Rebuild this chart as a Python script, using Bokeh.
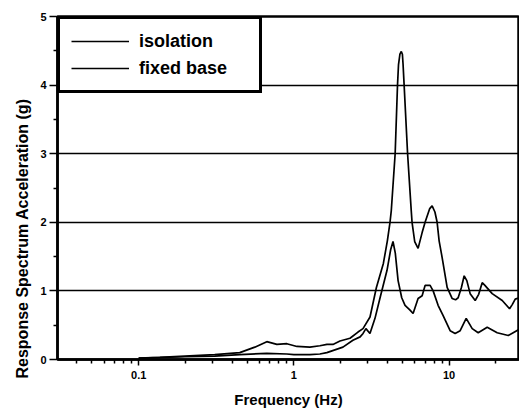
import numpy as np
from bokeh.plotting import figure
from bokeh.models import FixedTicker, Legend, LegendItem, Title, BasicTickFormatter, Range1d
from bokeh.embed import file_html
from bokeh.resources import INLINE

# ---- data ----
freq_fixed = [0.1, 0.137, 0.198, 0.309, 0.448, 0.56, 0.669, 0.777, 0.901, 1.046, 1.268,
              1.471, 1.633, 1.785, 1.981, 2.298, 2.588, 2.787, 3.093, 3.40, 3.77, 4.0,
              4.16, 4.24, 4.49, 4.65, 4.72, 4.82, 4.92, 5.0, 5.05, 5.13, 5.4, 5.7, 5.77,
              6.0, 6.31, 6.7, 7.0, 7.5, 7.77, 8.1, 8.37, 8.62, 9.01, 9.71, 10.45, 11.0,
              11.43, 12.0, 12.5, 13.0, 13.66, 14.72, 15.5, 16.33, 17.0, 18.94, 21.98,
              24.5, 25.5, 26.66, 28.29]
acc_fixed = [0.02, 0.03, 0.05, 0.07, 0.10, 0.18, 0.26, 0.22, 0.23, 0.19, 0.18,
             0.20, 0.22, 0.22, 0.27, 0.31, 0.40, 0.45, 0.62, 1.05, 1.40, 1.73,
             2.0, 2.17, 3.0, 4.0, 4.3, 4.45, 4.49, 4.45, 4.3, 4.0, 3.0, 2.17, 2.0,
             1.72, 1.62, 1.85, 2.0, 2.2, 2.24, 2.15, 2.0, 1.73, 1.49, 1.05, 0.89, 0.87,
             0.9, 1.05, 1.22, 1.15, 0.96, 0.86, 0.95, 1.12, 1.08, 0.96, 0.86,
             0.74, 0.8, 0.88, 0.9]

freq_iso = [0.1, 0.2, 0.309, 0.448, 0.669, 0.9, 1.0, 1.27, 1.47, 1.63, 2.07, 2.4, 2.67,
            2.79, 2.91, 3.09, 3.33, 3.59, 3.98, 4.2, 4.35, 4.5, 4.69, 4.95, 5.2, 5.6,
            5.86, 6.31, 6.7, 7.0, 7.54, 7.89, 8.49, 9.15, 10.15, 10.93, 11.78, 12.88,
            14.08, 15.39, 17.59, 20.4, 24.03, 28.29]
acc_iso = [0.02, 0.04, 0.05, 0.07, 0.09, 0.08, 0.07, 0.07, 0.08, 0.10, 0.18, 0.28, 0.33,
           0.38, 0.45, 0.38, 0.60, 0.90, 1.30, 1.60, 1.72, 1.55, 1.15, 0.90, 0.79, 0.72,
           0.67, 0.89, 0.93, 1.08, 1.08, 1.00, 0.79, 0.64, 0.42, 0.38, 0.42, 0.60,
           0.45, 0.39, 0.47, 0.39, 0.35, 0.44]

y_ticks = [0, 1, 2, 3, 4, 5]
y_minor = [0.5, 1.5, 2.5, 3.5, 4.5]
x_ticks = [0.1, 1, 10]
x_minor = [0.04, 0.05, 0.06, 0.07, 0.08, 0.09, 0.2, 0.3, 0.4, 0.5, 0.6, 0.7, 0.8, 0.9,
           2, 3, 4, 5, 6, 7, 8, 9, 20, 30]
x_labels = {0.1: "0.1", 1: "1", 10: "10"}

FONT = "Liberation Sans"

p = figure(width=519, height=415, x_axis_type="log",
           x_range=Range1d(0.03, 28.4), y_range=Range1d(0, 5),
           output_backend="svg", toolbar_location=None,
           min_border_left=57, min_border_right=0, min_border_top=16, min_border_bottom=56)

p.background_fill_color = "white"
p.border_fill_color = "white"
p.outline_line_color = "black"
p.outline_line_width = 2.5

r_fix = p.line(freq_fixed, acc_fixed, line_color="black", line_width=1.7)
r_iso = p.line(freq_iso, acc_iso, line_color="black", line_width=1.7)

# axes
p.yaxis.ticker = FixedTicker(ticks=y_ticks, minor_ticks=y_minor)
p.xaxis.ticker = FixedTicker(ticks=x_ticks, minor_ticks=x_minor)
p.xaxis.formatter = BasicTickFormatter()
p.xaxis.major_label_overrides = x_labels

for ax in (p.xaxis[0], p.yaxis[0]):
    ax.axis_line_color = "black"
    ax.axis_line_width = 2.5
    ax.major_tick_line_color = "black"
    ax.minor_tick_line_color = "black"
    ax.major_tick_line_width = 1.5
    ax.minor_tick_line_width = 1.5
    ax.major_tick_in = 0
    ax.minor_tick_in = 0
    ax.major_label_text_font = FONT
    ax.major_label_text_font_style = "bold"
    ax.major_label_text_font_size = "11px"
    ax.major_label_text_color = "black"

p.yaxis.major_tick_out = 8
p.yaxis.minor_tick_out = 4
p.yaxis.major_label_standoff = 3
p.xaxis.major_tick_out = 6
p.xaxis.minor_tick_out = 4
p.xaxis.major_label_standoff = 5

p.xaxis.axis_label = "Frequency (Hz)"
p.xaxis.axis_label_text_font = FONT
p.xaxis.axis_label_text_font_style = "bold"
p.xaxis.axis_label_text_font_size = "15px"
p.xaxis.axis_label_text_color = "black"
p.xaxis.axis_label_standoff = 9

# grid
p.xgrid.visible = False
p.ygrid.ticker = FixedTicker(ticks=y_ticks)
p.ygrid.grid_line_color = "black"
p.ygrid.grid_line_width = 1.5

# y title, starting a little below the frame bottom as in the reference
ytitle = Title(text="Response  Spectrum  Acceleration (g)", align="left", offset=-19,
               text_font=FONT, text_font_style="bold", text_font_size="16px",
               text_color="black", standoff=14)
p.add_layout(ytitle, "left")

legend = Legend(items=[LegendItem(label="isolation", renderers=[r_iso]),
                       LegendItem(label="fixed base", renderers=[r_fix])],
                location="top_left", margin=0, padding=11, spacing=5,
                glyph_width=58, glyph_height=22, label_height=22, label_width=109,
                label_standoff=10,
                border_line_color="black", border_line_width=3, border_line_alpha=1.0,
                background_fill_color="white", background_fill_alpha=1.0,
                label_text_font=FONT, label_text_font_style="bold",
                label_text_font_size="18px", label_text_color="black")
p.add_layout(legend)

open("out.html", "w").write(file_html(p, INLINE))
